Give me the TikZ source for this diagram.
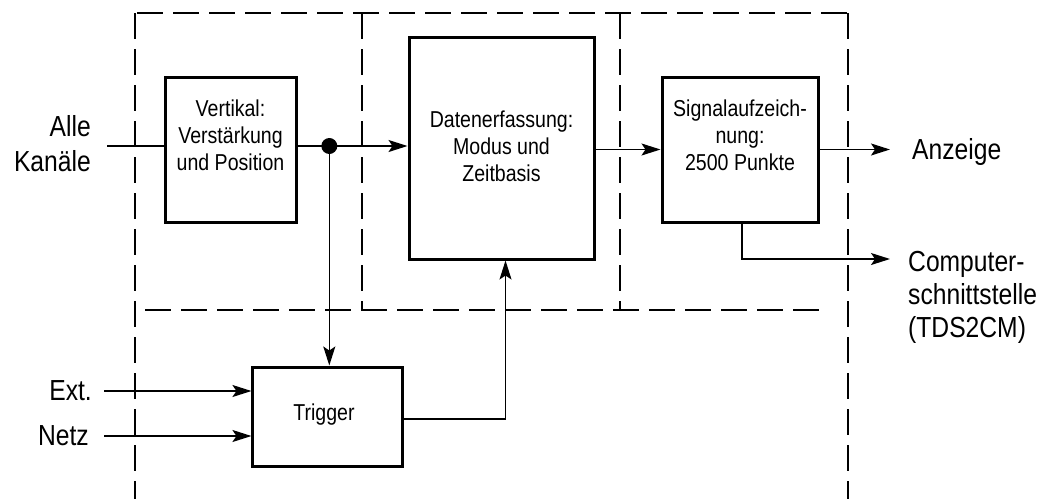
\documentclass[tikz,border=0pt]{standalone}
\usepackage{fontspec}
\setmainfont{Liberation Sans}[FakeStretch=0.85]
\usetikzlibrary{arrows.meta}
\begin{document}
\begin{tikzpicture}[x=1pt,y=-1pt,
  blk/.style={draw, line width=3pt, inner sep=0pt},
  btxt/.style={align=center, inner sep=0pt, font=\fontsize{23}{27}\selectfont},
  lbl/.style={inner sep=0pt, font=\fontsize{29}{35}\selectfont},
  wire/.style={line width=1.5pt},
  arr/.style={wire, -{Stealth[length=19pt,width=12pt,inset=4pt]}},
  frame/.style={line width=1.5pt, dash pattern=on 26pt off 10pt}]
\path[use as bounding box] (0,0) rectangle (1041,499);

% dashed frame
\draw[frame] (135,13) -- (135,499);
\draw[frame] (137,13) -- (848,13);
\draw[frame] (848,13) -- (848,499);
\draw[frame] (362,13) -- (362,310);
\draw[frame] (620,13) -- (620,310);
\draw[frame] (145,310) -- (828,310);

% blocks
\node[blk, minimum width=131pt, minimum height=145pt] (vert) at (230.5,149.5) {};
\node[btxt] (vertT) at (230.5,135.3) {Vertikal:\\Verstärkung\\und Position};
\node[blk, minimum width=185pt, minimum height=222pt] (daten) at (501.5,148) {};
\node[btxt] (datenT) at (501.5,146.6) {Datenerfassung:\\Modus und\\Zeitbasis};
\node[blk, minimum width=156pt, minimum height=145pt] (sig) at (740,149.5) {};
\node[btxt] (sigT) at (740,135.3) {Signalaufzeich-\\nung:\\2500 Punkte};
\node[blk, minimum width=149.5pt, minimum height=99pt] (trig) at (327.7,416.5) {};
\node[btxt] (trigT) at (324,415) {Trigger};

% labels
\node[lbl, align=right, anchor=east] (alle) at (91,144) {Alle\\Kanäle};
\node[lbl, anchor=east] (ext) at (92,391) {Ext.};
\node[lbl, anchor=east] (netz) at (89,436) {Netz};
\node[lbl, anchor=base west] (anz) at (912,159) {Anzeige};
\node[lbl, align=left, anchor=north west, font=\fontsize{29}{33}\selectfont] (comp) at (908,251) {Computer-\\schnittstelle\\(TDS2CM)};

% connectors
\coordinate (inp) at (107,146);
\coordinate (dot) at (329.3,146);
\draw[wire] (inp) -- (inp -| vert.west);
\draw[wire] (dot -| vert.east) -- (dot);
\draw[arr] (dot) -- (dot -| daten.west);
\draw[arr] (dot) -- (dot |- trig.north);
\fill (dot) circle (8pt);
\draw[arr] (sig.west -| daten.east) -- (sig.west);
\coordinate (anzIn) at (890,149.5);
\draw[arr] (sig.east) -- (anzIn);
\coordinate (cb) at (742,259);
\coordinate (compIn) at (890,259);
\draw[arr] (cb |- sig.south) -- (cb) -- (compIn);
\coordinate (extS) at (104,391);
\coordinate (netzS) at (104,436);
\draw[arr] (extS) -- (extS -| trig.west);
\draw[arr] (netzS) -- (netzS -| trig.west);
\coordinate (tb) at (505.5,419);
\draw[arr] (tb -| trig.east) -- (tb) -- (tb |- daten.south);
\end{tikzpicture}
\end{document}
